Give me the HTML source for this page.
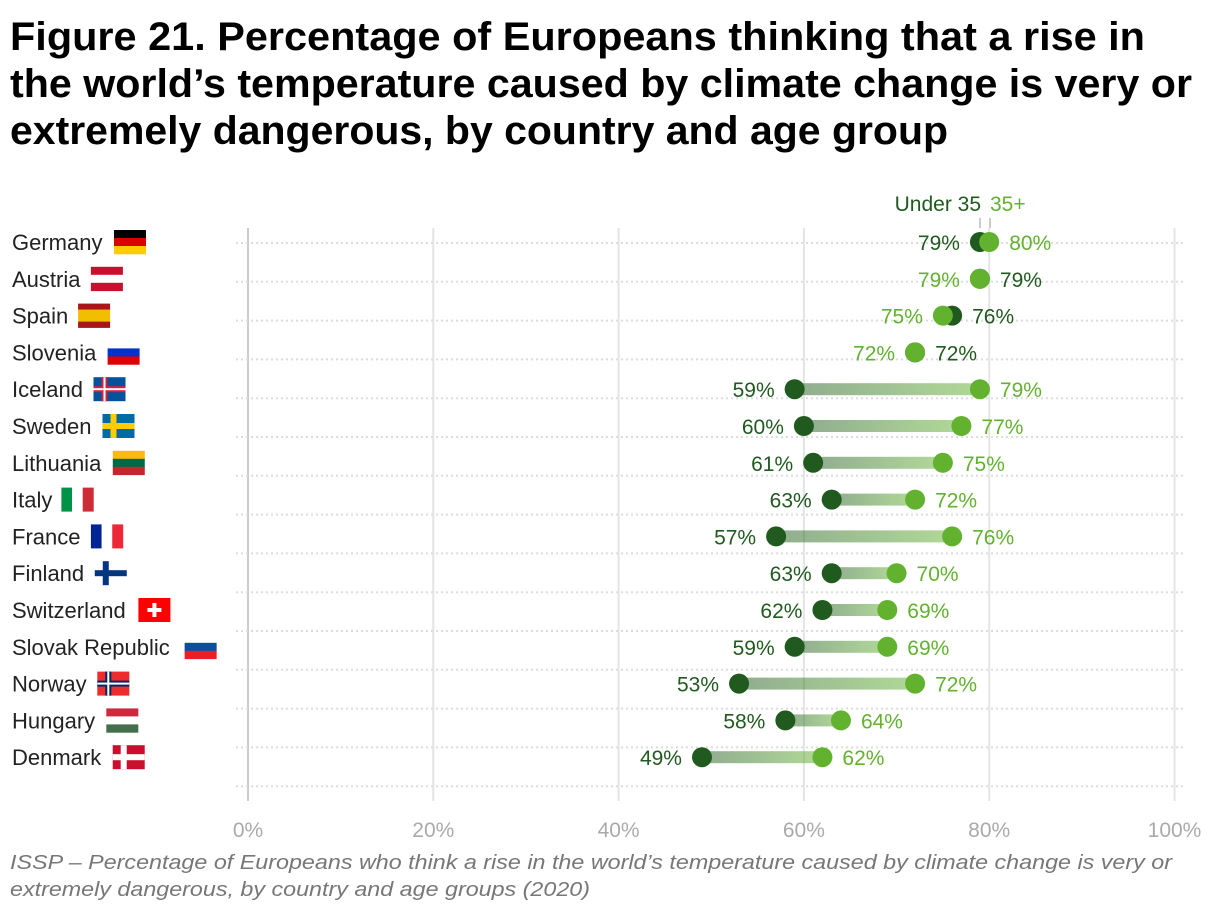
<!DOCTYPE html>
<html><head><meta charset="utf-8"><style>
body{margin:0;background:#fff;font-family:"Liberation Sans",sans-serif;}
</style></head><body>
<svg width="1220" height="914" xmlns="http://www.w3.org/2000/svg" id="chart" font-family="Liberation Sans, sans-serif">
<defs><linearGradient id="g" x1="0" x2="1" y1="0" y2="0"><stop offset="0" stop-color="#215a1f" stop-opacity="0.5"/><stop offset="1" stop-color="#62b22f" stop-opacity="0.5"/></linearGradient></defs>
<g font-size="40" font-weight="bold" fill="#000">
<text x="10" y="50" textLength="1135" lengthAdjust="spacingAndGlyphs">Figure 21. Percentage of Europeans thinking that a rise in</text>
<text x="10" y="97" textLength="1182" lengthAdjust="spacingAndGlyphs">the world’s temperature caused by climate change is very or</text>
<text x="10" y="144" textLength="938" lengthAdjust="spacingAndGlyphs">extremely dangerous, by country and age group</text>
</g>
<g id="grid"></g><g id="rows"></g>
<g font-size="21">
<text x="981" y="211" text-anchor="end" fill="#215a1f">Under 35</text>
<text x="990" y="211" fill="#62b22f">35+</text>
<line x1="980" y1="218" x2="980" y2="228" stroke="#999"/><line x1="990" y1="218" x2="990" y2="228" stroke="#999"/>
</g>
<g font-size="20" font-style="italic" fill="#777">
<text x="10" y="869" textLength="1162" lengthAdjust="spacingAndGlyphs">ISSP – Percentage of Europeans who think a rise in the world’s temperature caused by climate change is very or</text>
<text x="10" y="896" textLength="580" lengthAdjust="spacingAndGlyphs">extremely dangerous, by country and age groups (2020)</text>
</g>
</svg>
<script>
const countries=["Germany","Austria","Spain","Slovenia","Iceland","Sweden","Lithuania","Italy","France","Finland","Switzerland","Slovak Republic","Norway","Hungary","Denmark"];
const under35=[79,79,76,72,59,60,61,63,57,63,62,59,53,58,49];
const over35=[80,79,75,72,79,77,75,72,76,70,69,69,72,64,62];
const ticks=[0,20,40,60,80,100];
const NS="http://www.w3.org/2000/svg";
const x=v=>248+v*9.265, y=i=>242+i*36.8;
function el(t,a,p){const e=document.createElementNS(NS,t);for(const k in a)e.setAttribute(k,a[k]);p.appendChild(e);return e;}
const grid=document.getElementById('grid'),rows=document.getElementById('rows');
ticks.forEach(t=>{
 const l=el('line',{x1:x(t),x2:x(t),y1:228,y2:801,stroke:t===0?'#ccc':'#e4e4e4','stroke-width':2},grid);
 
 
 const tx=el('text',{x:x(t),y:837,'text-anchor':'middle','font-size':21,fill:'#aaa'},grid);tx.textContent=t+'%';
 
 
});
for(let i=0;i<countries.length;i++){
 const l=el('line',{x1:236,x2:1186,y1:243+i*38.8,y2:243+i*38.8,stroke:'#ddd','stroke-width':2,'stroke-dasharray':'2 3'},grid);
 
 
}
const flags={
Germany:[['#000','#d00','#fc0']],Austria:[['#c8102e','#fff','#c8102e']],Spain:[['#aa151b','#f1bf00','#f1bf00','#aa151b']],
Slovenia:[['#fff','#0033cc','#d00']],Lithuania:[['#fdb913','#006a44','#c1272d']],Hungary:[['#cd2a3e','#fff','#436f4d']],
Slovak:[['#fff','#0b4ea2','#ee1c25']],Sweden:'nordic:#006aa7:#fecc00',Iceland:'nordic:#02529c:#dc1e35:#fff',Norway:'nordic:#ef2b2d:#002868:#fff',
Finland:'nordic:#fff:#003580',Denmark:'nordic:#c8102e:#fff',Italy:'v:#009246:#fff:#ce2b37',France:'v:#002395:#fff:#ed2939',Switzerland:'ch'};
countries.forEach((c,i)=>{
 const cy=y(i);
 const t=el('text',{x:12,y:cy+8,'font-size':22,fill:'#222'},rows);t.textContent=c;
 
 
 const fx=12+t.getComputedTextLength()*1.05+7, fy=cy-12, w=32,h=24;
 const g=el('g',{},rows);
 
 
 const f=flags[c.split(' ')[0]];
 if(Array.isArray(f)){const s=f[0];s.forEach((col,k)=>el('rect',{x:fx,y:fy+k*h/s.length,width:w,height:h/s.length+0.3,fill:col},g));}
 else if(f.startsWith('nordic')){const p=f.split(':');el('rect',{x:fx,y:fy,width:w,height:h,fill:p[1]},g);
  el('rect',{x:fx+8,y:fy,width:6,height:h,fill:p[2]},g);el('rect',{x:fx,y:fy+9,width:w,height:6,fill:p[2]},g);
  if(p[3]){el('rect',{x:fx+10,y:fy,width:2,height:h,fill:p[3]},g);el('rect',{x:fx,y:fy+11,width:w,height:2,fill:p[3]},g);}}
 else if(f.startsWith('v')){const p=f.split(':');[1,2,3].forEach(k=>el('rect',{x:fx+(k-1)*w/3,y:fy,width:w/3+0.3,height:h,fill:p[k]},g));}
 else {el('rect',{x:fx,y:fy,width:32,height:h,fill:'#f00'},g);el('rect',{x:fx+14,y:fy+5,width:4,height:14,fill:'#fff'},g);el('rect',{x:fx+9,y:fy+10,width:14,height:4,fill:'#fff'},g);}
 const a=under35[i],b=over35[i];
 const bar=el('rect',{x:Math.min(x(a),x(b)),y:cy-6,width:Math.abs(x(b)-x(a)),height:12,fill:b>a?'url(#g)':'#9fbf8f'},rows);
 
 
 const d1=el('circle',{cx:x(a),cy:cy,r:10,fill:'#215a1f'},rows);
 
 
 const d2=el('circle',{cx:x(b),cy:cy,r:10,fill:'#62b22f'},rows);
 
 
 const darkLeft=b>a;
 const lo=Math.min(x(a),x(b))-20, hi=Math.max(x(a),x(b))+20;
 const t1=el('text',{x:darkLeft?lo:hi,y:cy+8,'font-size':21,fill:'#215a1f','text-anchor':darkLeft?'end':'start'},rows);t1.textContent=a+'%';
 
 
 const t2=el('text',{x:darkLeft?hi:lo,y:cy+8,'font-size':21,fill:'#62b22f','text-anchor':darkLeft?'start':'end'},rows);t2.textContent=b+'%';
 
 
});
</script>
</body></html>
